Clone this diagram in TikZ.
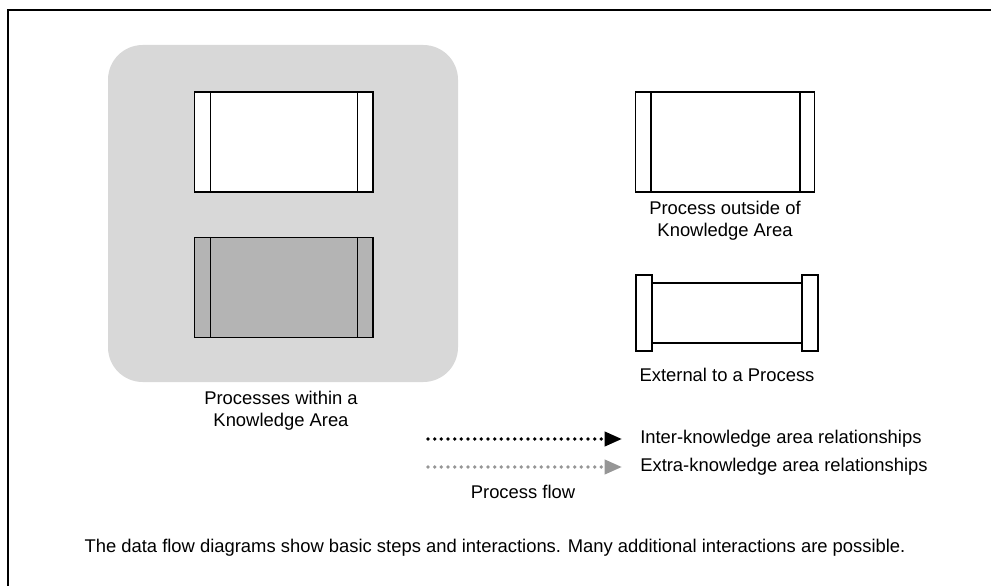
\documentclass[tikz,border=0pt]{standalone}
\usepackage{fontspec}
\setmainfont{Liberation Sans}
\usetikzlibrary{arrows.meta,calc}

\definecolor{kaGray}{RGB}{216,216,216}
\definecolor{procGray}{RGB}{180,180,180}
\definecolor{extraGray}{RGB}{150,150,150}

\tikzset{
  procbox/.style={draw, line width=1pt, inner sep=0pt, minimum width=134pt, minimum height=75pt},
  capbox/.style={draw, fill=white, line width=1pt, inner sep=0pt, minimum width=12pt, minimum height=57pt},
  label/.style={inner sep=0.75pt, font=\fontsize{13.8}{16.5}\selectfont, align=center},
  flow/.style={line width=2.8pt, line cap=round, dash pattern=on 0pt off 5pt, -{Triangle[length=13pt,width=10.5pt]}}
}

\begin{document}
\begin{tikzpicture}[x=0.75pt,y=0.75pt,yscale=-1,xscale=1]
        \useasboundingbox (0,0) rectangle (991,585);

        %Frame
        \draw[line width=1.5pt] (8,620) -- (8,10) -- (1020,10) ;

        %Shape: Rounded Rect [knowledge area]
        \fill[kaGray, rounded corners=26pt] (108,45) rectangle (458,382) ;

        %Process inside, white
        \node[procbox, fill=white] (inA) at (283.5,142) {};
        \draw[line width=1pt] ($(inA.north west)+(17,0)$) -- ($(inA.south west)+(17,0)$) ;
        \draw[line width=1pt] ($(inA.north east)+(-16,0)$) -- ($(inA.south east)+(-16,0)$) ;

        %Process inside, gray
        \node[procbox, fill=procGray] (inB) at (283.5,287.5) {};
        \draw[line width=1pt] ($(inB.north west)+(17,0)$) -- ($(inB.south west)+(17,0)$) ;
        \draw[line width=1pt] ($(inB.north east)+(-16,0)$) -- ($(inB.south east)+(-16,0)$) ;

        %Process outside of knowledge area
        \node[procbox, fill=white] (outP) at (725,142) {};
        \draw[line width=1pt] ($(outP.north west)+(16,0)$) -- ($(outP.south west)+(16,0)$) ;
        \draw[line width=1pt] ($(outP.north east)+(-15,0)$) -- ($(outP.south east)+(-15,0)$) ;

        %External to a process
        \node[capbox] (capL) at (644,313) {};
        \node[capbox] (capR) at (810,313) {};
        \draw[line width=1pt] ($(capL.east)+(0,-30)$) -- ($(capR.west)+(0,-30)$) ;
        \draw[line width=1pt] ($(capL.east)+(0,30)$) -- ($(capR.west)+(0,30)$) ;

        %Process flow arrows
        \coordinate (interS) at (428,439) ;
        \coordinate (interE) at (622,439) ;
        \coordinate (extraS) at (428,467) ;
        \coordinate (extraE) at (622,467) ;
        \draw[flow, black] (interS) -- (interE) ;
        \draw[flow, extraGray] (extraS) -- (extraE) ;

        % Text Node
        \node[label] (kaText) at (281,411) {Processes within a\\Knowledge Area};
        \node[label] (outText) at (725,221) {Process outside of\\Knowledge Area};
        \node[label] (extText) at (727,375) {External to a Process};
        \node[label, anchor=west] (interText) at (639,439) {Inter-knowledge area relationships};
        \node[label, anchor=west] (extraText) at (639,467) {Extra-knowledge area relationships};
        \node[label] (flowText) at (523,492) {Process flow};
        \node[label] (noteText) at (495,548) {The data flow diagrams show basic steps and interactions. Many additional interactions are possible.};
    \end{tikzpicture}
\end{document}
